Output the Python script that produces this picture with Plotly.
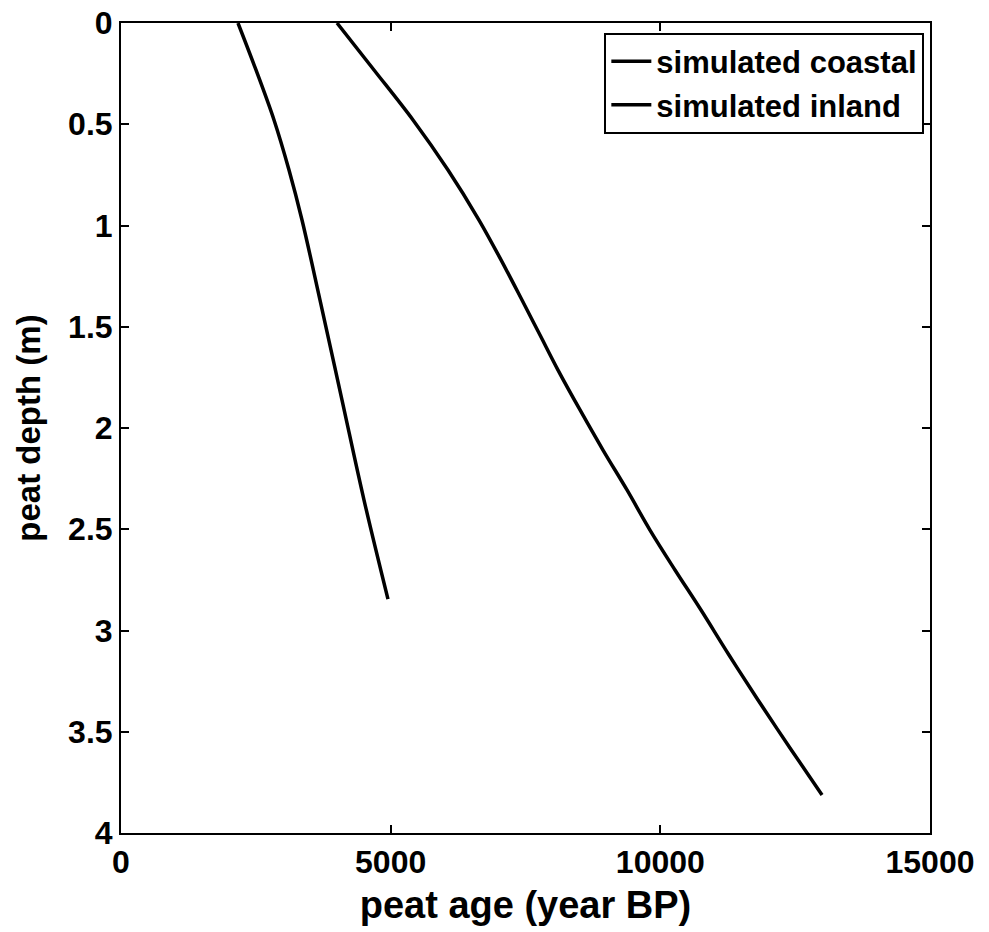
import plotly.graph_objects as go

# Simulated age-depth profiles (age in years BP, depth in m)
coastal_age = [4005, 4691, 5414, 6063, 6638, 7046, 7435, 7769, 8103, 8511,
               8937, 9382, 9808, 10272, 10754, 11273, 11811, 12404, 12998]
coastal_depth = [0.0, 0.232, 0.479, 0.726, 0.973, 1.170, 1.368, 1.541, 1.714,
                 1.911, 2.109, 2.306, 2.504, 2.701, 2.899, 3.121, 3.343, 3.580,
                 3.812]

inland_age = [2169, 2503, 2837, 3115, 3356, 3690, 4098, 4506, 4950]
inland_depth = [0.0, 0.232, 0.479, 0.726, 0.973, 1.368, 1.862, 2.356, 2.845]

x_ticks = [0, 5000, 10000, 15000]
y_ticks = [0, 0.5, 1, 1.5, 2, 2.5, 3, 3.5, 4]
y_tick_text = ["0", "0.5", "1", "1.5", "2", "2.5", "3", "3.5", "4"]

FONT = "Liberation Sans, Arial, sans-serif"

fig = go.Figure()
fig.add_trace(go.Scatter(x=coastal_age, y=coastal_depth, mode="lines",
                         name="simulated coastal",
                         line=dict(color="black", width=3.5, shape="spline",
                                   smoothing=1.0)))
fig.add_trace(go.Scatter(x=inland_age, y=inland_depth, mode="lines",
                         name="simulated inland",
                         line=dict(color="black", width=3.5, shape="spline",
                                   smoothing=1.0)))

axis_common = dict(showline=True, linecolor="black", linewidth=2, mirror="ticks",
                   ticks="inside", ticklen=8, tickwidth=1.5, tickcolor="black",
                   showgrid=False, zeroline=False, automargin=False,
                   tickfont=dict(family=FONT, size=32, color="black", weight="bold"))

fig.update_xaxes(range=[0, 15000], tickvals=x_ticks, ticktext=[str(v) for v in x_ticks],
                 title=dict(text="peat age (year BP)", standoff=12,
                            font=dict(family=FONT, size=38, color="black", weight="bold")),
                 **axis_common)
fig.update_yaxes(range=[4, 0], tickvals=y_ticks, ticktext=y_tick_text,
                 title=dict(text="peat depth (m)", standoff=18,
                            font=dict(family=FONT, size=33, color="black", weight="bold")),
                 **axis_common)

fig.update_layout(
    width=989, height=932,
    margin=dict(l=121, r=59, t=23, b=99, autoexpand=False),
    paper_bgcolor="white", plot_bgcolor="white",
    showlegend=True,
    legend=dict(x=0.993, y=0.988, xanchor="right", yanchor="top",
                bordercolor="black", borderwidth=2, bgcolor="white",
                font=dict(family=FONT, size=31, color="black", weight="bold"),
                itemwidth=40, tracegroupgap=0),
)

fig.write_html("out.html")
